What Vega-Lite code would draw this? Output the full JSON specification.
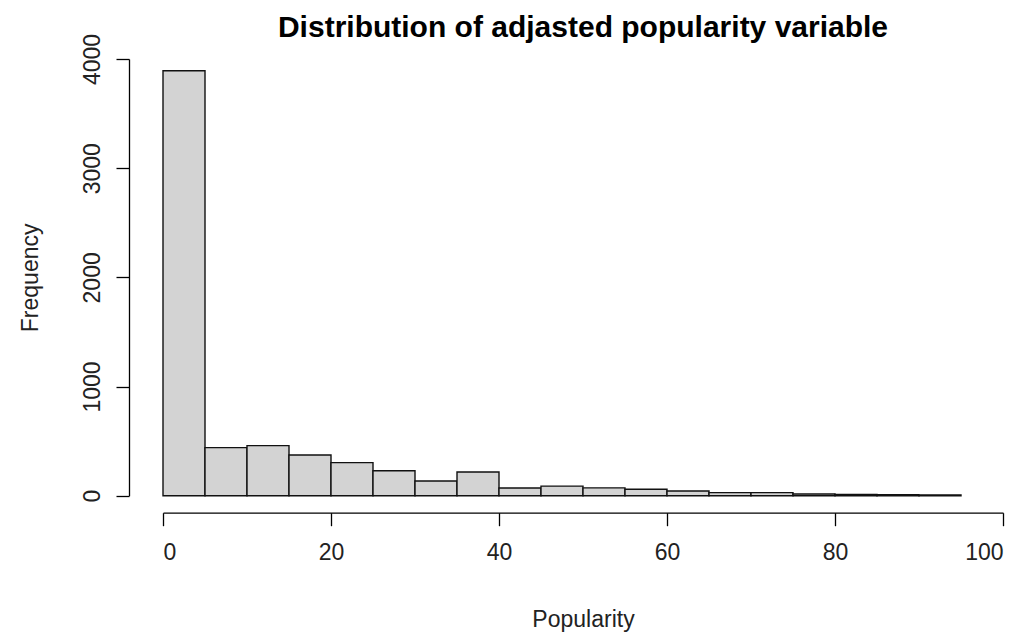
{
  "$schema": "https://vega.github.io/schema/vega-lite/v6.json",
  "autosize": "none",
  "width": 840,
  "height": 436.7,
  "padding": {"left": 163, "top": 59, "right": 28, "bottom": 139.3},
  "background": "white",
  "config": {
    "view": {"stroke": null},
    "font": "Liberation Sans",
    "axis": {
      "grid": false,
      "domainColor": "black",
      "domainWidth": 1.3,
      "tickColor": "black",
      "tickWidth": 1.3,
      "tickSize": 13,
      "labelFont": "Liberation Sans",
      "labelFontSize": 23,
      "labelColor": "#222222",
      "titleFont": "Liberation Sans",
      "titleFontSize": 23,
      "titleFontWeight": "normal",
      "titleColor": "#222222"
    }
  },
  "title": {
    "text": "Distribution of adjasted popularity variable",
    "font": "Liberation Sans",
    "fontSize": 30,
    "fontWeight": "bold",
    "color": "black",
    "anchor": "middle",
    "frame": "group",
    "baseline": "alphabetic",
    "offset": 0,
    "dy": 34
  },
  "data": {
    "values": [
      {"bin_start": 0, "bin_end": 5, "count": 3893},
      {"bin_start": 5, "bin_end": 10, "count": 440},
      {"bin_start": 10, "bin_end": 15, "count": 459},
      {"bin_start": 15, "bin_end": 20, "count": 373},
      {"bin_start": 20, "bin_end": 25, "count": 303},
      {"bin_start": 25, "bin_end": 30, "count": 229},
      {"bin_start": 30, "bin_end": 35, "count": 135},
      {"bin_start": 35, "bin_end": 40, "count": 217},
      {"bin_start": 40, "bin_end": 45, "count": 70},
      {"bin_start": 45, "bin_end": 50, "count": 88},
      {"bin_start": 50, "bin_end": 55, "count": 72},
      {"bin_start": 55, "bin_end": 60, "count": 59},
      {"bin_start": 60, "bin_end": 65, "count": 43},
      {"bin_start": 65, "bin_end": 70, "count": 28},
      {"bin_start": 70, "bin_end": 75, "count": 28},
      {"bin_start": 75, "bin_end": 80, "count": 15},
      {"bin_start": 80, "bin_end": 85, "count": 12},
      {"bin_start": 85, "bin_end": 90, "count": 10},
      {"bin_start": 90, "bin_end": 95, "count": 8}
    ]
  },
  "mark": {"type": "rect", "fill": "#D3D3D3", "stroke": "#111111", "strokeWidth": 1.4},
  "encoding": {
    "x": {
      "field": "bin_start",
      "type": "quantitative",
      "scale": {"domain": [0, 100], "nice": false, "zero": false},
      "axis": {
        "values": [0, 20, 40, 60, 80, 100],
        "format": "d",
        "offset": 17,
        "labelPadding": 16,
        "title": "Popularity",
        "titlePadding": 44
      }
    },
    "x2": {"field": "bin_end"},
    "y": {
      "field": "count",
      "type": "quantitative",
      "scale": {"domain": [0, 4000], "nice": false},
      "axis": {
        "values": [0, 1000, 2000, 3000, 4000],
        "format": "d",
        "offset": 34,
        "labelAngle": -90,
        "labelAlign": "center",
        "labelBaseline": "bottom",
        "labelPadding": 12,
        "title": "Frequency",
        "titlePadding": 39
      }
    },
    "y2": {"datum": 0}
  }
}
